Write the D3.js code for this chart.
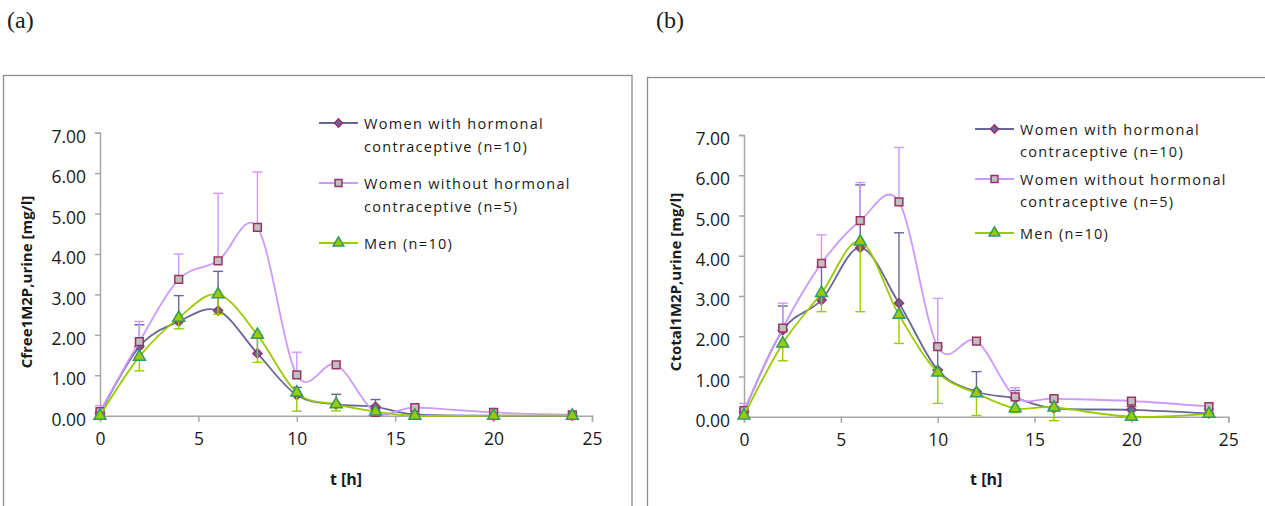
<!DOCTYPE html>
<html>
<head>
<meta charset="utf-8">
<script src="https://cdn.jsdelivr.net/npm/d3@7"></script>
<style>
  body { margin: 0; background: #fff; }
  text { font-family: "Open Sans", sans-serif; fill: #1a1a1a; }
</style>
</head>
<body>
<script>
// sampling times (h)
let hours = [0, 2, 4, 6, 8, 10, 12, 14, 16, 20, 24];
let xTicks = [0, 5, 10, 15, 20, 25];
let yTicks = [0, 1, 2, 3, 4, 5, 6, 7];

let seriesNames = ["Women with hormonal|contraceptive (n=10)",
                   "Women without hormonal|contraceptive (n=5)",
                   "Men (n=10)"];

// (a) free 1M2P, mean and error (error drawn up for women, down for men)
let freeWithHC     = [0.05, 1.71, 2.33, 2.60, 1.54, 0.51, 0.28, 0.22, 0.03, 0.00, 0.00];
let freeWithHCErr  = [0.05, 0.54, 0.64, 0.97, 0.46, 0.19, 0.25, 0.18, 0.02, 0.00, 0.00];
let freeWithout    = [0.10, 1.83, 3.37, 3.83, 4.66, 1.01, 1.26, 0.08, 0.20, 0.08, 0.02];
let freeWithoutErr = [0.15, 0.50, 0.63, 1.67, 1.37, 0.56, 0.04, 0.04, 0.05, 0.02, 0.03];
let freeMen        = [0.00, 1.46, 2.42, 3.00, 2.00, 0.57, 0.28, 0.10, 0.00, 0.00, 0.00];
let freeMenErr     = [0.00, 0.35, 0.27, 0.49, 0.68, 0.46, 0.16, 0.05, 0.00, 0.00, 0.00];

// (b) total 1M2P
let totalWithHC     = [0.12, 2.15, 2.90, 4.20, 2.82, 1.16, 0.62, 0.46, 0.21, 0.17, 0.08];
let totalWithHCErr  = [0.08, 0.60, 0.82, 1.56, 1.75, 0.58, 0.50, 0.19, 0.04, 0.08, 0.12];
let totalWithout    = [0.15, 2.20, 3.81, 4.87, 5.34, 1.74, 1.88, 0.49, 0.45, 0.39, 0.25];
let totalWithoutErr = [0.18, 0.62, 0.71, 0.95, 1.35, 1.20, 0.02, 0.23, 0.05, 0.03, 0.08];
let totalMen        = [0.03, 1.82, 3.07, 4.35, 2.53, 1.10, 0.58, 0.21, 0.23, 0.00, 0.07];
let totalMenErr     = [0.03, 0.43, 0.46, 1.74, 0.71, 0.77, 0.55, 0.11, 0.33, 0.00, 0.07];

// diamond = square turned 45 degrees
let styles = [
	{line: "#666699", fill: "#666699", stroke: "#993366", symbol: d3.symbolSquare, size: 42, rot: 45, dir: 1},
	{line: "#cc99ff", fill: "#c0c0c0", stroke: "#993366", symbol: d3.symbolSquare, size: 60, rot: 0, dir: 1},
	{line: "#99cc00", fill: "#99cc00", stroke: "#339966", symbol: d3.symbolTriangle, size: 62, rot: 0, dir: -1}
];

let svg = d3.select("body").append("svg")
	.attr("width", 1265)
	.attr("height", 506);

function drawPanel(p) {
	// frame
	svg.append("rect")
		.attr("x", p.frame[0]).attr("y", p.frame[1])
		.attr("width", p.frame[2]).attr("height", p.frame[3])
		.attr("fill", "none").attr("stroke", "#8c8c8c").attr("stroke-width", 1.3);

	svg.append("text")
		.attr("x", p.tag[0]).attr("y", p.tag[1])
		.style("font-family", "'Liberation Serif', serif")
		.style("font-size", "24px")
		.text(p.label);

	let x = d3.scaleLinear().domain([0, 25]).range([p.x0, p.x1]);
	let y = d3.scaleLinear().domain([0, 7]).range([p.y0, p.y1]);

	let g = svg.append("g");

	// y axis
	let yAxis = g.append("g")
		.attr("transform", "translate(" + p.x0 + ",0)")
		.call(d3.axisLeft(y).tickValues(yTicks).tickSize(5).tickPadding(9)
			.tickFormat(d3.format(".2f")));
	// x axis
	let xAxis = g.append("g")
		.attr("transform", "translate(0," + p.y0 + ")")
		.call(d3.axisBottom(x).tickValues(xTicks).tickSize(6).tickPadding(8));

	[xAxis, yAxis].forEach(function(a) {
		a.select(".domain").attr("stroke", "#a6a6a6").attr("stroke-width", 1.5);
		a.selectAll(".tick line").attr("stroke", "#a6a6a6").attr("stroke-width", 1.5);
		a.selectAll(".tick text")
			.style("font-family", "'Open Sans', sans-serif")
			.style("font-size", "17.5px").attr("fill", "#1a1a1a");
	});
	yAxis.selectAll(".tick text").attr("dy", "0.55em");
	xAxis.selectAll(".tick text").attr("dy", "0.85em");

	// axis titles
	g.append("text")
		.attr("x", (p.x0 + p.x1) / 2).attr("y", 485)
		.attr("text-anchor", "middle")
		.style("font-size", "16px").style("font-weight", "bold")
		.text("t [h]");
	g.append("text")
		.attr("transform", "translate(" + p.ytitleX + ",282) rotate(-90)")
		.attr("text-anchor", "middle")
		.style("font-size", "15px").style("font-weight", "bold")
		.text(p.ytitle);

	let line = d3.line()
		.curve(d3.curveCardinal.tension(0))
		.x(function(d) { return x(d.t); })
		.y(function(d) { return y(d.v); });

	p.series.forEach(function(s, i) {
		let st = styles[i];
		let data = hours.map(function(t, j) { return {t: t, v: s.mean[j], e: s.err[j]}; });

		// error bars
		let eb = g.append("g").attr("stroke", st.line).attr("stroke-width", 1.4);
		data.forEach(function(d) {
			if (d.e <= 0) return;
			let yEnd = y(d.v + st.dir * d.e);
			eb.append("line")
				.attr("x1", x(d.t)).attr("x2", x(d.t))
				.attr("y1", y(d.v)).attr("y2", yEnd);
			eb.append("line")
				.attr("x1", x(d.t) - 5).attr("x2", x(d.t) + 5)
				.attr("y1", yEnd).attr("y2", yEnd);
		});

		g.append("path")
			.datum(data)
			.attr("fill", "none")
			.attr("stroke", st.line)
			.attr("stroke-width", 1.8)
			.attr("d", line);

		g.selectAll(".m" + i)
			.data(data)
			.enter().append("path")
				.attr("transform", function(d) {
					return "translate(" + x(d.t) + "," + y(d.v) + ") rotate(" + st.rot + ")"; })
				.attr("d", d3.symbol().type(st.symbol).size(st.size))
				.attr("fill", st.fill)
				.attr("stroke", st.stroke)
				.attr("stroke-width", 1.5);
	});

	// legend
	seriesNames.forEach(function(name, i) {
		let st = styles[i];
		let ly = p.legendY[i];
		let lines = name.split("|");
		svg.append("line")
			.attr("x1", p.legendX).attr("x2", p.legendX + 39)
			.attr("y1", ly).attr("y2", ly)
			.attr("stroke", st.line).attr("stroke-width", 1.8);
		svg.append("path")
			.attr("transform", "translate(" + (p.legendX + 19.5) + "," + ly + ") rotate(" + st.rot + ")")
			.attr("d", d3.symbol().type(st.symbol).size(st.size * 0.8))
			.attr("fill", st.fill).attr("stroke", st.stroke).attr("stroke-width", 1.5);
		lines.forEach(function(l, k) {
			svg.append("text")
				.attr("x", p.legendX + 45)
				.attr("y", ly + k * p.legendGap + 5.5)
				.style("font-size", "14.5px")
				.style("letter-spacing", "1.3px")
				.text(l);
		});
	});
}

drawPanel({
	label: "(a)", tag: [7, 28],
	frame: [3.5, 75.5, 628.5, 440],
	x0: 100, x1: 592, y0: 415.7, y1: 132.7,
	ytitle: "Cfree1M2P,urine [mg/l]", ytitleX: 32,
	legendX: 319, legendY: [123, 183, 243], legendGap: 23,
	series: [
		{mean: freeWithHC, err: freeWithHCErr},
		{mean: freeWithout, err: freeWithoutErr},
		{mean: freeMen, err: freeMenErr}
	]
});

drawPanel({
	label: "(b)", tag: [656, 28],
	frame: [647.5, 77.5, 640, 440],
	x0: 744, x1: 1228.3, y0: 416.7, y1: 135,
	ytitle: "Ctotal1M2P,urine [mg/l]", ytitleX: 681,
	legendX: 975, legendY: [129, 179, 233], legendGap: 22,
	series: [
		{mean: totalWithHC, err: totalWithHCErr},
		{mean: totalWithout, err: totalWithoutErr},
		{mean: totalMen, err: totalMenErr}
	]
});
</script>
</body>
</html>
